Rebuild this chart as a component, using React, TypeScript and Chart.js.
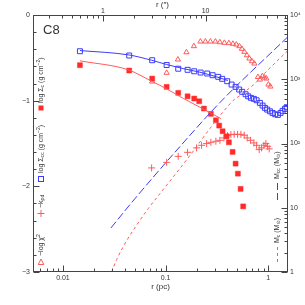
import React, { useEffect, useRef } from 'react';
import { Chart, registerables } from 'chart.js';

Chart.register(...registerables);

// ---------------- data (r in pc) ----------------
// blue open squares: log Sigma_cc (g cm^-2)
const rSquares = [0.01464, 0.04421, 0.07404, 0.1023, 0.1327, 0.1637, 0.1899, 0.2192, 0.2542, 0.2868, 0.3252, 0.3557, 0.398, 0.4391, 0.4804, 0.5208, 0.5569, 0.6012, 0.6372, 0.6771, 0.7242, 0.7694, 0.8283, 0.8801, 0.9267, 0.9757, 1.0366, 1.1013, 1.1676, 1.2402, 1.3175, 1.3777, 1.4505, 1.5069];
const logSigmaCC = [-0.423, -0.473, -0.528, -0.584, -0.627, -0.64, -0.657, -0.672, -0.683, -0.703, -0.722, -0.745, -0.773, -0.812, -0.839, -0.87, -0.897, -0.925, -0.949, -0.967, -0.979, -0.995, -1.026, -1.057, -1.084, -1.104, -1.124, -1.143, -1.159, -1.166, -1.143, -1.119, -1.096, -1.077];

// red filled squares: log Sigma_c (g cm^-2)
const rFilled = [0.01464, 0.04421, 0.07404, 0.1023, 0.1327, 0.1637, 0.1899, 0.2124, 0.236, 0.2761, 0.3088, 0.3325, 0.3589, 0.3926, 0.4135, 0.4491, 0.4804, 0.5058, 0.5374, 0.5695];
const logSigmaC = [-0.586, -0.648, -0.742, -0.839, -0.909, -0.949, -0.975, -1.007, -1.092, -1.154, -1.229, -1.291, -1.357, -1.416, -1.486, -1.598, -1.735, -1.852, -2.03, -2.234];

// fitted profiles
const rFitCC = [0.01464, 0.04322, 0.07306, 0.1023, 0.1474, 0.2158, 0.3137, 0.4043];
const fitCC = [-0.415, -0.465, -0.528, -0.578, -0.625, -0.668, -0.722, -0.765];
const rFitC = [0.01464, 0.04322, 0.07306, 0.1023, 0.1484, 0.2158, 0.3454];
const fitC = [-0.535, -0.64, -0.773, -0.862, -0.973, -1.077, -1.209];

// red open triangles: -log chi^2
const rChi = [0.07404, 0.1023, 0.1318, 0.1594, 0.1886, 0.2183, 0.2441, 0.273, 0.3053, 0.3378, 0.3736, 0.4135, 0.4521, 0.4891, 0.5231, 0.5531, 0.5852, 0.6188, 0.6546, 0.6923, 0.7324, 0.7919, 0.8283, 0.8762, 0.9163, 0.9583, 1.0023, 1.0481];
const negLogChi2 = [-0.777, -0.675, -0.52, -0.435, -0.364, -0.31, -0.31, -0.31, -0.31, -0.318, -0.325, -0.329, -0.336, -0.345, -0.364, -0.395, -0.43, -0.47, -0.508, -0.54, -0.567, -0.724, -0.754, -0.713, -0.73, -0.742, -0.812, -0.835];

// red crosses: -k_rho_d
const rK = [0.07306, 0.1023, 0.1327, 0.1637, 0.2003, 0.2241, 0.2508, 0.2761, 0.3088, 0.3378, 0.3695, 0.4016, 0.4323, 0.4656, 0.5025, 0.541, 0.5825, 0.6229, 0.6726, 0.7242, 0.7694, 0.8155, 0.8605, 0.9062, 0.9476, 0.9845, 1.0205];
const negK = [-1.785, -1.72, -1.65, -1.603, -1.551, -1.521, -1.501, -1.486, -1.474, -1.463, -1.435, -1.408, -1.396, -1.393, -1.393, -1.393, -1.404, -1.435, -1.463, -1.493, -1.521, -1.571, -1.551, -1.521, -1.501, -1.533, -1.563];

// masses (Msun, right axis)
const rMc = [0.0298, 0.03333, 0.04172, 0.0522, 0.06769, 0.08801, 0.128, 0.1857, 0.27, 0.4551, 0.5291, 0.6188, 0.7405, 0.8663, 1.0366, 1.5515];
const massC = [1.0, 1.555, 3.073, 5.358, 9.68, 16.58, 35.2, 76.1, 170.7, 465.8, 557.3, 678.9, 857.0, 1121, 1494, 2799];
const rMcc = [0.02934, 0.05025, 0.1378, 0.3378, 1.5415];
const massCC = [4.847, 13.86, 89.5, 433.6, 4542];

// axes
const R_MIN = 0.00511;
const R_MAX = 1.556;
const PC_PER_ARCSEC = 0.02451;
const bottomTicks = [0.01, 0.1, 1];
const bottomLabels = ['0.01', '0.1', '1'];
const topTicks = [1, 10];
const topLabels = ['1', '10'];
const leftTicks = [0, -1, -2, -3];
const leftLabels = ['0', '\u22121', '\u22122', '\u22123'];
const rightTicks = [1, 10, 100, 1000, 10000];
const rightLabels = ['1', '10', '10\u00B2', '10\u00B3', '10\u2074'];

const RED = '#ff2a2a';
const RED_LIGHT = '#ff5a5a';
const BLUE = '#3b3bff';
const AXIS = '#444';
const FONT = '"Liberation Sans", "DejaVu Sans", sans-serif';

type Part = { t: string; s?: 'sub' | 'sup' };

function pts(xs: number[], ys: number[]) {
  return xs.map((x, i) => ({ x, y: ys[i] }));
}

function drawVertical(ctx: CanvasRenderingContext2D, parts: Part[], x: number, yBottom: number, size: number) {
  ctx.save();
  ctx.translate(x, yBottom);
  ctx.rotate(-Math.PI / 2);
  ctx.textBaseline = 'middle';
  ctx.textAlign = 'left';
  let cx = 0;
  for (const p of parts) {
    const fs = p.s ? size * 0.72 : size;
    ctx.font = `${fs}px ${FONT}`;
    const dy = p.s === 'sub' ? size * 0.3 : p.s === 'sup' ? -size * 0.38 : 0;
    ctx.fillText(p.t, cx, dy);
    cx += ctx.measureText(p.t).width;
  }
  ctx.restore();
}

const framePlugin = {
  id: 'framePlugin',
  afterDraw(chart: any) {
    const { ctx, chartArea: a, scales } = chart;
    const L = Math.round(a.left) + 0.5;
    const R = Math.round(a.right) - 0.5;
    const T = Math.round(a.top) + 0.5;
    const B = Math.round(a.bottom) - 0.5;
    ctx.save();
    ctx.strokeStyle = AXIS;
    ctx.lineWidth = 1;
    ctx.strokeRect(L, T, R - L, B - T);

    ctx.beginPath();
    // bottom (pc)
    for (let e = -3; e <= 0; e++) {
      for (let m = 1; m <= 9; m++) {
        const v = m * Math.pow(10, e);
        if (v < R_MIN || v > R_MAX) continue;
        const px = Math.round(scales.x.getPixelForValue(v)) + 0.5;
        const len = m === 1 ? 6 : 3;
        ctx.moveTo(px, B);
        ctx.lineTo(px, B - len);
      }
    }
    // top (arcsec)
    for (let e = -1; e <= 2; e++) {
      for (let m = 1; m <= 9; m++) {
        const v = m * Math.pow(10, e);
        if (v < scales.x2.min || v > scales.x2.max) continue;
        const px = Math.round(scales.x2.getPixelForValue(v)) + 0.5;
        const len = m === 1 ? 6 : 3;
        ctx.moveTo(px, T);
        ctx.lineTo(px, T + len);
      }
    }
    // left linear
    for (let i = 0; i <= 15; i++) {
      const v = -3 + i * 0.2;
      const py = Math.round(scales.y.getPixelForValue(v)) + 0.5;
      const len = i % 5 === 0 ? 6 : 3;
      ctx.moveTo(L, py);
      ctx.lineTo(L + len, py);
    }
    // right log
    for (let e = 0; e <= 4; e++) {
      for (let m = 1; m <= 9; m++) {
        const v = m * Math.pow(10, e);
        if (v > 10000) continue;
        const py = Math.round(scales.y2.getPixelForValue(v)) + 0.5;
        const len = m === 1 ? 6 : 3;
        ctx.moveTo(R, py);
        ctx.lineTo(R - len, py);
      }
    }
    ctx.stroke();

    // tick labels
    ctx.fillStyle = '#333';
    ctx.font = `7px ${FONT}`;
    ctx.textAlign = 'center';
    ctx.textBaseline = 'middle';
    bottomTicks.forEach((v, i) => ctx.fillText(bottomLabels[i], scales.x.getPixelForValue(v), 278));
    topTicks.forEach((v, i) => ctx.fillText(topLabels[i], scales.x2.getPixelForValue(v), 11));
    ctx.textAlign = 'right';
    leftTicks.forEach((v, i) => ctx.fillText(leftLabels[i], 30, scales.y.getPixelForValue(v)));
    ctx.textAlign = 'left';
    rightTicks.forEach((v, i) => ctx.fillText(rightLabels[i], 290, scales.y2.getPixelForValue(v)));

    // axis titles
    ctx.font = `8px ${FONT}`;
    ctx.textAlign = 'center';
    const cxm = (a.left + a.right) / 2;
    ctx.fillText('r (pc)', cxm, 287);
    ctx.fillText('r (\u2033)', cxm + 2, 5);

    // panel label
    ctx.font = `13px ${FONT}`;
    ctx.textAlign = 'left';
    ctx.textBaseline = 'alphabetic';
    ctx.fillStyle = '#333';
    ctx.fillText('C8', 43, 34);

    // left legend
    ctx.fillStyle = '#333';
    drawVertical(ctx, [{ t: 'log \u03A3' }, { t: 'c', s: 'sub' }, { t: ' (g cm' }, { t: '\u22122', s: 'sup' }, { t: ')' }], 41, 103, 7);
    drawVertical(ctx, [{ t: 'log \u03A3' }, { t: 'cc', s: 'sub' }, { t: ' (g cm' }, { t: '\u22122', s: 'sup' }, { t: ')' }], 41, 173, 7);
    drawVertical(ctx, [{ t: '\u2212k' }, { t: '\u03C1d', s: 'sub' }], 41, 208, 7);
    drawVertical(ctx, [{ t: '\u2212log \u03C7' }, { t: '2', s: 'sup' }], 41, 256, 7);
    // right legend
    drawVertical(ctx, [{ t: 'M' }, { t: 'cc', s: 'sub' }, { t: ' (M' }, { t: '\u2299', s: 'sub' }, { t: ')' }], 277, 179, 7);
    drawVertical(ctx, [{ t: 'M' }, { t: 'c', s: 'sub' }, { t: ' (M' }, { t: '\u2299', s: 'sub' }, { t: ')' }], 277, 243, 7);

    // legend markers
    ctx.fillStyle = RED;
    ctx.fillRect(38.5, 105.5, 5, 5);
    ctx.strokeStyle = BLUE;
    ctx.strokeRect(38.5, 176.5, 5, 5);
    ctx.strokeStyle = RED_LIGHT;
    ctx.beginPath();
    ctx.moveTo(37.5, 213.5); ctx.lineTo(44.5, 213.5);
    ctx.moveTo(41, 210); ctx.lineTo(41, 217);
    ctx.stroke();
    ctx.beginPath();
    ctx.moveTo(41, 259); ctx.lineTo(43.8, 264.5); ctx.lineTo(38.2, 264.5); ctx.closePath();
    ctx.stroke();
    ctx.lineWidth = 1;
    ctx.strokeStyle = BLUE;
    ctx.setLineDash([7, 3]);
    ctx.beginPath(); ctx.moveTo(277.5, 183); ctx.lineTo(277.5, 201); ctx.stroke();
    ctx.strokeStyle = RED_LIGHT;
    ctx.setLineDash([3, 3]);
    ctx.beginPath(); ctx.moveTo(277.5, 247); ctx.lineTo(277.5, 264); ctx.stroke();
    ctx.restore();
  },
};

export default function App() {
  const ref = useRef<HTMLCanvasElement>(null);
  useEffect(() => {
    if (!ref.current) return;
    const chart = new Chart(ref.current, {
      type: 'scatter',
      data: {
        datasets: [
          { data: pts(rFitCC, fitCC), showLine: true, borderColor: BLUE, borderWidth: 1, pointRadius: 0, cubicInterpolationMode: 'monotone', xAxisID: 'x', yAxisID: 'y' },
          { data: pts(rFitC, fitC), showLine: true, borderColor: RED_LIGHT, borderWidth: 1, pointRadius: 0, cubicInterpolationMode: 'monotone', xAxisID: 'x', yAxisID: 'y' },
          { data: pts(rMcc, massCC), showLine: true, borderColor: BLUE, borderWidth: 1, borderDash: [8, 3], pointRadius: 0, cubicInterpolationMode: 'monotone', xAxisID: 'x', yAxisID: 'y2' },
          { data: pts(rMc, massC), showLine: true, borderColor: RED_LIGHT, borderWidth: 1, borderDash: [3, 3], pointRadius: 0, cubicInterpolationMode: 'monotone', xAxisID: 'x', yAxisID: 'y2' },
          { data: pts(rSquares, logSigmaCC), pointStyle: 'rect', pointRadius: 3.5, borderColor: BLUE, backgroundColor: 'rgba(0,0,0,0)', borderWidth: 1, xAxisID: 'x', yAxisID: 'y' },
          { data: pts(rFilled, logSigmaC), pointStyle: 'rect', pointRadius: 3.5, borderColor: RED, backgroundColor: RED, borderWidth: 0.5, xAxisID: 'x', yAxisID: 'y' },
          { data: pts(rChi, negLogChi2), pointStyle: 'triangle', pointRadius: 3, borderColor: RED_LIGHT, backgroundColor: 'rgba(0,0,0,0)', borderWidth: 1, xAxisID: 'x', yAxisID: 'y' },
          { data: pts(rK, negK), pointStyle: 'cross', pointRadius: 3.5, borderColor: RED_LIGHT, borderWidth: 1, xAxisID: 'x', yAxisID: 'y' },
        ],
      },
      options: {
        animation: false,
        responsive: false,
        maintainAspectRatio: false,
        layout: { padding: { left: 33, right: 17, top: 15, bottom: 33 } },
        plugins: { legend: { display: false }, tooltip: { enabled: false } },
        scales: {
          x: { type: 'logarithmic', position: 'bottom', min: R_MIN, max: R_MAX, display: false },
          x2: { type: 'logarithmic', position: 'top', min: R_MIN / PC_PER_ARCSEC, max: R_MAX / PC_PER_ARCSEC, display: false },
          y: { type: 'linear', position: 'left', min: -3, max: 0, display: false },
          y2: { type: 'logarithmic', position: 'right', min: 1, max: 10000, display: false },
        },
      } as any,
      plugins: [framePlugin],
    });
    return () => chart.destroy();
  }, []);
  return (
    <div style={{ position: 'fixed', left: 0, top: 0, width: 305, height: 305, background: '#fff' }}>
      <canvas ref={ref} width={305} height={305} style={{ display: 'block', width: 305, height: 305 }} />
    </div>
  );
}
